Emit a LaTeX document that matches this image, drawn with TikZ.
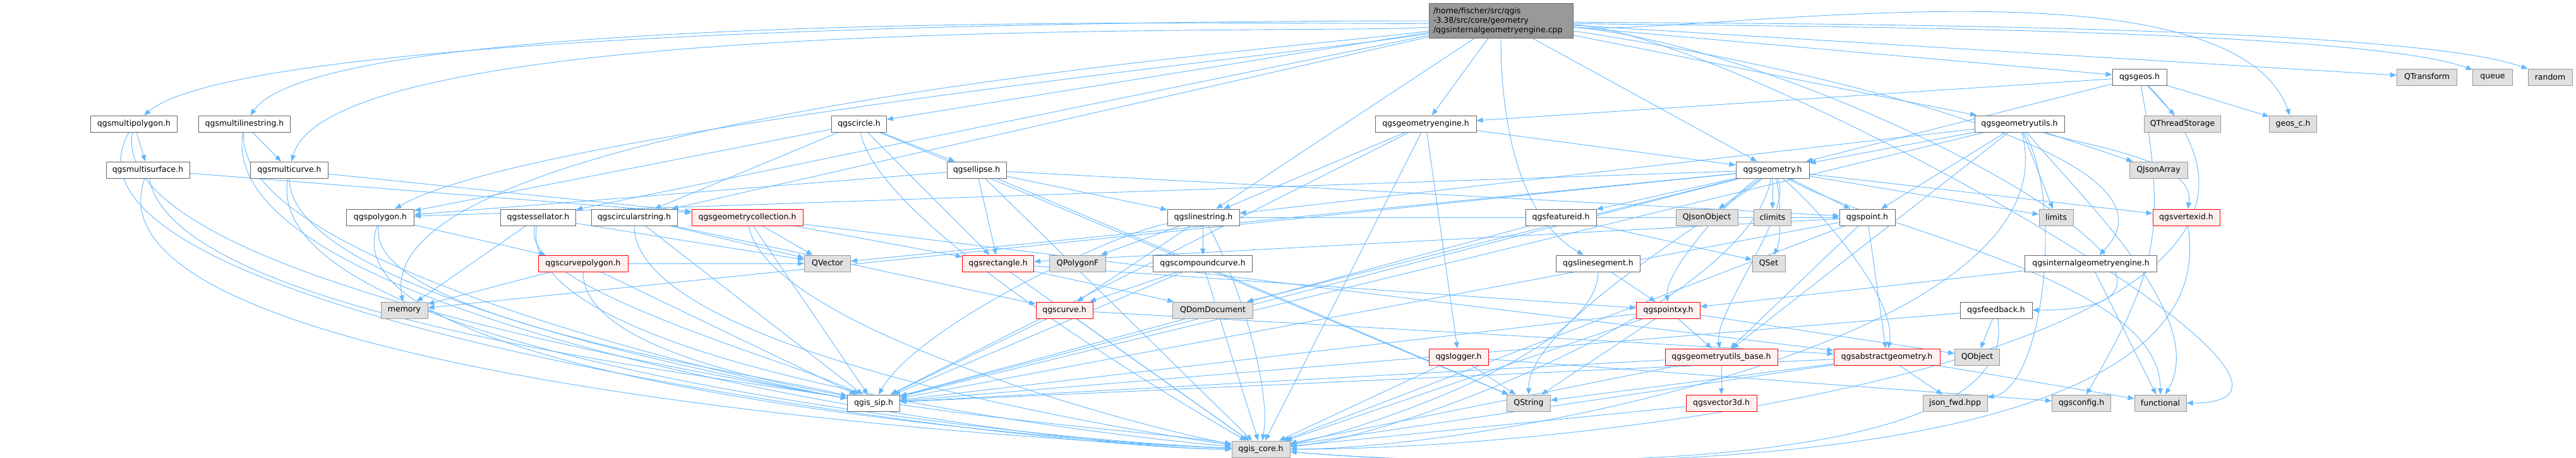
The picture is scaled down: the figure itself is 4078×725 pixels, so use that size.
\documentclass[tikz,border=0pt]{standalone}
\usepackage{fontspec}
\setmainfont{DejaVu Sans}
\usepackage{tikz}
\usetikzlibrary{arrows.meta, backgrounds}

\definecolor{edgeblue}{HTML}{63B8FF}
\definecolor{topgray}{HTML}{999999}
\definecolor{sysgray}{HTML}{E0E0E0}
\definecolor{truncfill}{HTML}{FFF0F0}

\tikzset{
  every node/.style={font=\fontsize{12.5}{15}\selectfont},
  file/.style={draw=black!60, fill=white, line width=1pt, minimum height=26pt, inner sep=2pt},
  sysfile/.style={file, draw=black!40, fill=sysgray},
  truncfile/.style={file, draw=red, fill=truncfill},
  dep/.style={draw=edgeblue, line width=0.9pt, -{Triangle[length=10pt,width=8pt]}}
}

\begin{document}
\begin{tikzpicture}[x=1pt, y=1pt]
\useasboundingbox (0,0) rectangle (4078,-725);

\node[file, fill=topgray, draw=black!60, text width=214pt, inner xsep=7pt, minimum height=55pt, align=left] (cpp) at (2376,-33)
  {/home/fischer/src/qgis\\-3.38/src/core/geometry\\/qgsinternalgeometryengine.cpp};

\foreach \n/\x/\y/\w/\t in {
    geos/3387/122/86/qgsgeos.h,
    multipolygon/212/196/137/qgsmultipolygon.h, multilinestring/387/196/145/qgsmultilinestring.h,
    circle/1360/196/87/qgscircle.h, geomengine/2257/196/160/qgsgeometryengine.h,
    geomutils/3197/196/142/qgsgeometryutils.h,
    multisurface/234/269/132/qgsmultisurface.h, multicurve/458/269/123/qgsmulticurve.h,
    ellipse/1546/269/94/qgsellipse.h, geometry/2806/269/116/qgsgeometry.h,
    polygon/602/344/107/qgspolygon.h, tessellator/852/344/119/qgstessellator.h,
    circularstring/1004/344/136/qgscircularstring.h, linestring/1905/344/114/qgslinestring.h,
    featureid/2471/344/112/qgsfeatureid.h, point/2956/344/88/qgspoint.h,
    compoundcurve/1904/417/157/qgscompoundcurve.h, linesegment/2530/417/133/qgslinesegment.h,
    internalengine/3310/417/209/qgsinternalgeometryengine.h,
    feedback/3160/491/114/qgsfeedback.h, qgissip/1383/638/83/qgis\_sip.h}
  \node[file, minimum width=\w pt] (\n) at (\x,-\y) {\t};

\foreach \n/\x/\y/\w/\t in {
    qtransform/3842/122/95/QTransform, queue/3946/122/63/queue, random/4037/122/70/random,
    qthreadstorage/3455/196/121/QThreadStorage, geosc/3630/196/75/geos\_c.h,
    qjsonarray/3417/269/92/QJsonArray,
    qjsonobject/2702/344/98/QJsonObject, climits/2806/344/59/climits, limits/3255/344/54/limits,
    qvector/1310/417/73/QVector, qpolygonf/1706/417/89/QPolygonF, qset/2800/417/52/QSet,
    memory/640/491/74/memory, qdomdocument/1920/491/127/QDomDocument,
    qobject/3130/565/71/QObject,
    qstring/2420/638/69/QString, jsonfwd/3095/638/102/json\_fwd.hpp,
    qsconfig/3295/638/93/qgsconfig.h, functional/3420/638/82/functional,
    qgiscore/1996/711/92/qgis\_core.h}
  \node[sysfile, minimum width=\w pt] (\n) at (\x,-\y) {\t};

\foreach \n/\x/\y/\w/\t in {
    geomcoll/1183/344/176/qgsgeometrycollection.h, vertexid/3461/344/106/qgsvertexid.h,
    curvepolygon/923/417/142/qgscurvepolygon.h, rectangle/1580/417/113/qgsrectangle.h,
    curve/1685/491/90/qgscurve.h, pointxy/2641/491/101/qgspointxy.h,
    logger/2309/565/94/qgslogger.h, utilsbase/2725/565/178/qgsgeometryutils\_base.h,
    abstractgeom/2987/565/168/qgsabstractgeometry.h, vector3d/2725/638/112/qgsvector3d.h}
  \node[truncfile, minimum width=\w pt] (\n) at (\x,-\y) {\t};

\begin{scope}[on background layer]
\fill[white] (0,0) rectangle (4078,-725);
\foreach \s/\t in {
    cpp/geomengine, cpp/geometry, cpp/linestring, cpp/circle, cpp/circularstring,
    cpp/tessellator, cpp/geos, cpp/geomutils, cpp/qtransform,
    geos/geomengine, geos/geometry, geos/qthreadstorage, geos/geosc,
    geomutils/geometry, geomutils/point, geomutils/limits, geomutils/qjsonarray,
    geomutils/linestring, geomutils/utilsbase, geomutils/qgissip,
    geomengine/geometry, geomengine/linestring, geomengine/qgiscore, geomengine/logger, geomengine/qgissip,
    geometry/featureid, geometry/qjsonobject, geometry/climits, geometry/point, geometry/limits,
    geometry/vertexid, geometry/qgissip, geometry/qdomdocument, geometry/qvector, geometry/memory,
    geometry/polygon,
    circle/ellipse, circle/polygon, circle/circularstring, circle/rectangle, circle/qstring,
    ellipse/linestring, ellipse/polygon, ellipse/rectangle, ellipse/point, ellipse/qstring, ellipse/qgiscore,
    linestring/compoundcurve, linestring/curve, linestring/qpolygonf, linestring/point,
    compoundcurve/curve, compoundcurve/qgiscore, compoundcurve/qgissip,
    curve/qgiscore, curve/qgissip, curve/abstractgeom,
    rectangle/qgiscore, rectangle/qdomdocument, rectangle/pointxy,
    geomcoll/qvector, geomcoll/qgissip, geomcoll/rectangle, geomcoll/abstractgeom,
    circularstring/curve, circularstring/qvector, circularstring/qgissip,
    multicurve/geomcoll, multisurface/geomcoll, multipolygon/multisurface, multilinestring/multicurve,
    polygon/curvepolygon, curvepolygon/memory, curvepolygon/qgissip, curvepolygon/qvector,
    tessellator/memory, tessellator/qvector,
    featureid/qset, featureid/qgissip,
    point/abstractgeom, point/utilsbase, point/qgissip, point/rectangle, point/qgiscore,
    linesegment/pointxy,
    pointxy/qstring, pointxy/utilsbase, pointxy/qgiscore, pointxy/qgissip, pointxy/qobject,
    logger/qstring, logger/qgiscore, logger/qsconfig,
    utilsbase/vector3d, utilsbase/qgiscore, utilsbase/qgissip,
    abstractgeom/qstring, abstractgeom/jsonfwd, abstractgeom/functional, abstractgeom/qgiscore, abstractgeom/qgissip,
    vector3d/qgiscore,
    internalengine/functional, internalengine/pointxy,
    feedback/qobject, feedback/qgissip}
  \draw[dep] (\s) -- (\t);

% longer edges, bent round the other files
\foreach \s/\t/\o/\i/\d in {
    cpp/multipolygon/180/40/255, cpp/multilinestring/182/55/234, cpp/multicurve/185/75/265,
    cpp/memory/188/100/315, cpp/polygon/190/30/281, cpp/linesegment/-90/150/150,
    cpp/geosc/-5/110/296, cpp/internalengine/-8/45/276, cpp/feedback/-5/0/496,
    cpp/functional/-3/0/377, cpp/queue/-2/160/245, cpp/random/-1/160/260,
    geos/qgiscore/-45/0/590, geos/qsconfig/-80/60/245,
    geomutils/vertexid/-20/80/95, geomutils/qgiscore/-75/0/355,
    geomutils/jsonfwd/-60/10/142, geomutils/functional/-50/60/155,
    geometry/qset/-70/60/40, geometry/pointxy/210/95/65, geometry/qstring/220/90/125,
    geometry/abstractgeom/-40/80/95, geometry/utilsbase/-60/100/72,
    geometry/functional/-30/90/196, geometry/qgiscore/-100/5/216,
    circle/qgiscore/-80/150/160, linestring/qgiscore/-60/80/102, linestring/qgissip/190/60/143,
    multipolygon/qgiscore/-120/180/363, multilinestring/qgiscore/-100/180/332,
    multisurface/qgiscore/-110/178/356, multicurve/qgiscore/-100/178/313,
    polygon/qgiscore/-110/178/282, tessellator/qgiscore/-100/175/241,
    circularstring/qgiscore/-90/172/212, geomcoll/qgiscore/-80/170/179,
    curvepolygon/qgiscore/-90/170/218,
    multipolygon/qgissip/-100/170/248, multilinestring/qgissip/-95/170/219,
    multisurface/qgissip/-80/170/237, multicurve/qgissip/-90/170/198,
    polygon/qgissip/-100/165/165, tessellator/qgissip/-110/150/119,
    linesegment/qgiscore/-90/10/143, vertexid/qgiscore/-80/-5/426, feedback/qgiscore/-80/-5/285}
  \draw[dep] (\s) .. controls +(\o:\d) and +(\i:\d) .. (\t);
\end{scope}
\end{tikzpicture}
\end{document}
